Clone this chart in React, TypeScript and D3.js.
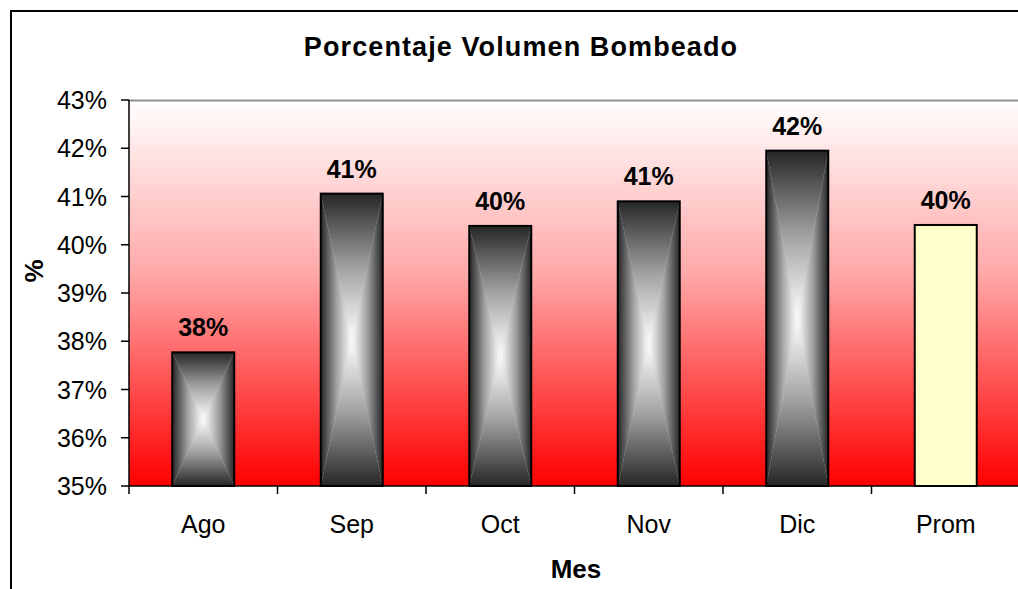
import React from "react";
import * as d3 from "d3";

const categories = ["Ago", "Sep", "Oct", "Nov", "Dic", "Prom"];
const values = [37.77, 41.06, 40.39, 40.9, 41.95, 40.41];
const labels = ["38%", "41%", "40%", "41%", "42%", "40%"];
const yTicks = [35, 36, 37, 38, 39, 40, 41, 42, 43];

const W = 1018;
const H = 589;
const plot = { left: 129, top: 100, right: 1020, bottom: 486 };

export default function App() {
  const x = d3
    .scaleBand<string>()
    .domain(categories)
    .range([plot.left, plot.right])
    .paddingInner(0)
    .paddingOuter(0);
  const y = d3.scaleLinear().domain([35, 43]).range([plot.bottom, plot.top]);
  const barW = 62;
  const dark = "#262626";
  const stops = (
    <>
      <stop offset="0" stopColor={dark} />
      <stop offset="0.5" stopColor="#a0a0a0" />
      <stop offset="1" stopColor="#ffffff" />
    </>
  );

  return (
    <svg
      width={W}
      height={H}
      style={{ position: "absolute", left: 0, top: 0, fontFamily: "Arial, 'Liberation Sans', sans-serif" }}
    >
      <defs>
        <linearGradient id="bg" x1="0" y1="0" x2="0" y2="1">
          <stop offset="0" stopColor="#ffffff" />
          <stop offset="0.45" stopColor="#ffa8a8" />
          <stop offset="1" stopColor="#ff0000" />
        </linearGradient>
        <linearGradient id="gT" x1="0" y1="0" x2="0" y2="1">{stops}</linearGradient>
        <linearGradient id="gB" x1="0" y1="1" x2="0" y2="0">{stops}</linearGradient>
        <linearGradient id="gL" x1="0" y1="0" x2="1" y2="0">{stops}</linearGradient>
        <linearGradient id="gR" x1="1" y1="0" x2="0" y2="0">{stops}</linearGradient>
      </defs>
      <rect x={0} y={0} width={W} height={H} fill="#ffffff" />
      {/* chart border */}
      <rect x={11} y={11} width={1200} height={800} fill="none" stroke="#000" strokeWidth={2} />

      {/* plot area */}
      <rect
        x={plot.left}
        y={plot.top}
        width={plot.right - plot.left}
        height={plot.bottom - plot.top}
        fill="url(#bg)"
      />
      <line x1={plot.left} x2={plot.right} y1={plot.top + 0.5} y2={plot.top + 0.5} stroke="#909090" strokeWidth={2} />

      {/* title */}
      <text x={521} y={56} textAnchor="middle" fontSize={27} fontWeight="bold" letterSpacing={1.1} fill="#000">
        Porcentaje Volumen Bombeado
      </text>

      {/* bars */}
      {categories.map((c, i) => {
        const cx = (x(c) as number) + x.bandwidth() / 2;
        const x0 = cx - barW / 2;
        const x1 = cx + barW / 2;
        const y0 = y(values[i]);
        const y1 = y(35);
        const my = (y0 + y1) / 2;
        if (c === "Prom") {
          return (
            <g key={c}>
              <rect x={x0} y={y0} width={barW} height={y1 - y0} fill="#ffffcc" stroke="#000" strokeWidth={2} />
            </g>
          );
        }
        return (
          <g key={c}>
            <rect x={x0} y={y0} width={barW} height={y1 - y0} fill="#c8c8c8" />
            <polygon points={`${x0},${y0} ${x1},${y0} ${cx},${my}`} fill="url(#gT)" />
            <polygon points={`${x0},${y1} ${x1},${y1} ${cx},${my}`} fill="url(#gB)" />
            <polygon points={`${x0},${y0} ${x0},${y1} ${cx},${my}`} fill="url(#gL)" />
            <polygon points={`${x1},${y0} ${x1},${y1} ${cx},${my}`} fill="url(#gR)" />
            <rect x={x0} y={y0} width={barW} height={y1 - y0} fill="none" stroke="#000" strokeWidth={2} />
          </g>
        );
      })}

      {/* data labels */}
      {categories.map((c, i) => {
        const cx = (x(c) as number) + x.bandwidth() / 2;
        return (
          <text key={c} x={cx} y={y(values[i]) - 16} textAnchor="middle" fontSize={25} fontWeight="bold" fill="#000">
            {labels[i]}
          </text>
        );
      })}

      {/* y axis */}
      <line x1={plot.left} x2={plot.left} y1={plot.top} y2={plot.bottom} stroke="#000" strokeWidth={1.5} />
      {yTicks.map((t) => (
        <g key={t}>
          <line x1={plot.left - 8} x2={plot.left} y1={y(t)} y2={y(t)} stroke="#000" strokeWidth={1.5} />
          <text x={107} y={y(t) + 9} textAnchor="end" fontSize={25} fill="#000">
            {t}%
          </text>
        </g>
      ))}

      {/* x axis */}
      <line x1={plot.left} x2={plot.right} y1={plot.bottom} y2={plot.bottom} stroke="#000" strokeWidth={1.5} />
      {categories.map((c) => (
        <line
          key={c}
          x1={x(c) as number}
          x2={x(c) as number}
          y1={plot.bottom}
          y2={plot.bottom + 8}
          stroke="#000"
          strokeWidth={1.5}
        />
      ))}
      {categories.map((c) => (
        <text
          key={c}
          x={(x(c) as number) + x.bandwidth() / 2}
          y={533}
          textAnchor="middle"
          fontSize={25}
          fill="#000"
        >
          {c}
        </text>
      ))}

      {/* axis titles */}
      <text x={576} y={578} textAnchor="middle" fontSize={26} fontWeight="bold" fill="#000">
        Mes
      </text>
      <text
        transform={`translate(43,271) rotate(-90)`}
        textAnchor="middle"
        fontSize={26}
        fontWeight="bold"
        fill="#000"
      >
        %
      </text>
    </svg>
  );
}
